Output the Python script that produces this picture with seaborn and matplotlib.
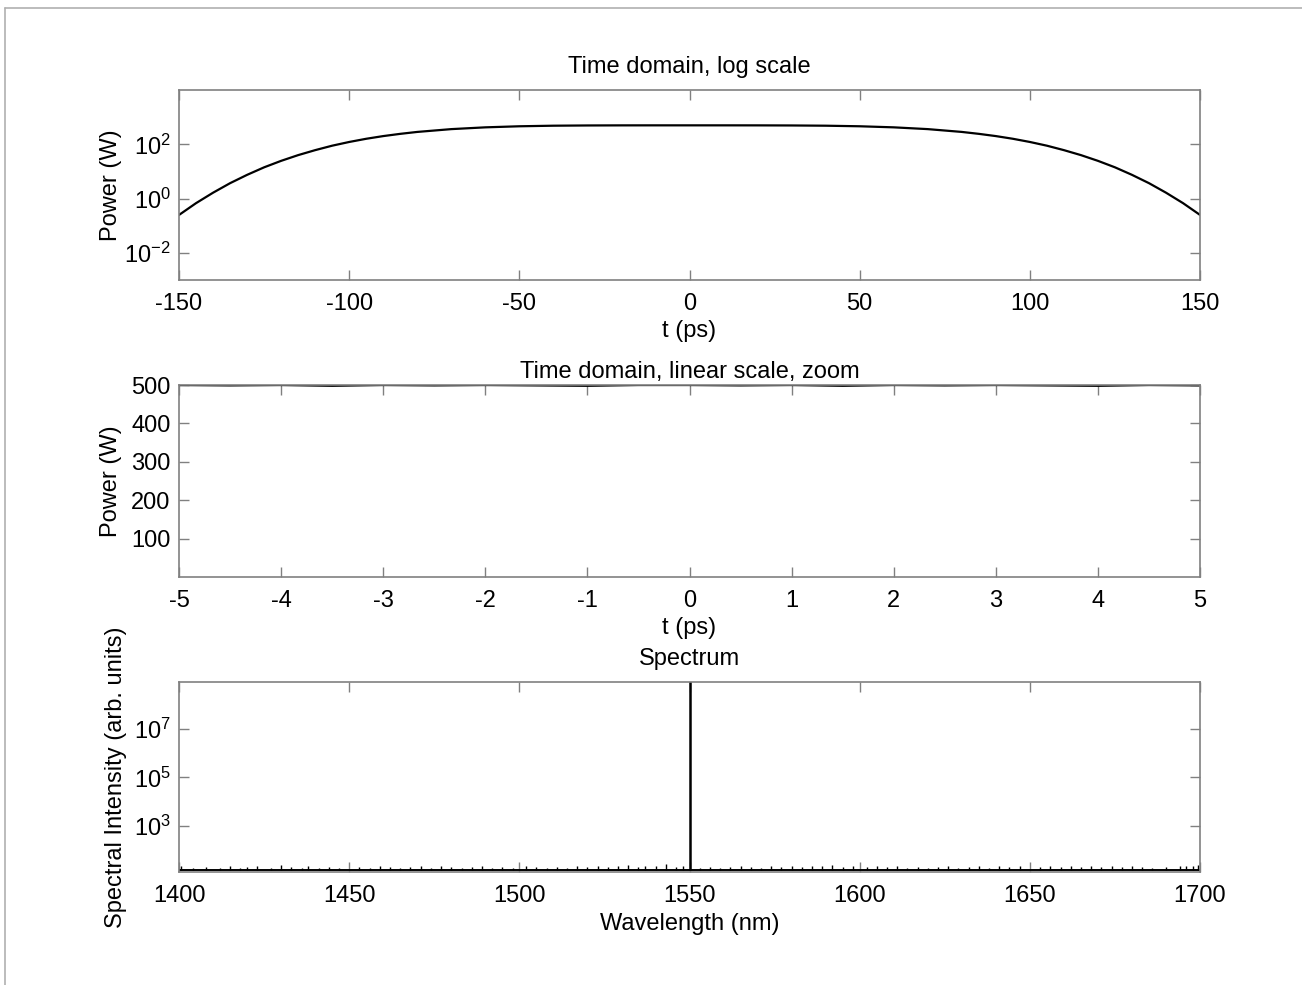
import matplotlib
matplotlib.use("Agg")
import pandas as pd
import seaborn as sns
import matplotlib.pyplot as plt
from matplotlib.lines import Line2D
from matplotlib.ticker import NullLocator

# ---- data ----
# time domain, log scale (ps, W)
t_log = [-150, -145, -140, -135, -130, -125, -120, -115, -110, -105, -100, -95,
         -90, -85, -80, -70, -60, -50, -40, -30, -20, -10, 0,
         10, 20, 30, 40, 50, 60, 70, 80, 85, 90, 95, 100, 105, 110, 115,
         120, 125, 130, 135, 140, 145, 150]
p_log = [0.25, 0.68, 1.65, 3.7, 7.5, 14.2, 24.6, 40, 61, 89, 122, 160,
         201, 243, 286, 363, 422, 462, 485, 495, 499, 500, 500,
         500, 499, 495, 485, 462, 422, 363, 286, 243, 201, 160, 122, 89, 61, 40,
         24.6, 14.2, 7.5, 3.7, 1.65, 0.68, 0.25]

# time domain, linear zoom (ps, W)
t_zoom = [-5, -4.5, -4, -3.5, -3, -2.5, -2, -1.5, -1, -0.5, 0,
          0.5, 1, 1.5, 2, 2.5, 3, 3.5, 4, 4.5, 5]
p_zoom = [500, 499, 500, 498, 500, 499, 500, 499, 498, 500, 500,
          499, 500, 498, 500, 499, 500, 499, 498, 500, 499]

# spectrum (nm, arb. units)
peak_wl = 1550
peak_val = 1e10
base_val = 14
noise_wl = [1400.5, 1404, 1408, 1412, 1415, 1418, 1420, 1423, 1427, 1430,
            1433, 1436, 1438, 1441, 1444, 1447, 1453, 1456, 1459, 1462,
            1465, 1468, 1471, 1474, 1477, 1480, 1483, 1486, 1489, 1492,
            1495, 1498, 1502, 1505, 1508, 1511, 1514, 1517, 1520, 1523,
            1526, 1529, 1532, 1535, 1537, 1540, 1543, 1546, 1548, 1553,
            1556, 1559, 1562, 1565, 1568, 1571, 1574, 1577, 1580, 1583,
            1586, 1589, 1592, 1595, 1598, 1602, 1605, 1608, 1611, 1614,
            1617, 1620, 1623, 1626, 1629, 1632, 1635, 1638, 1641, 1644,
            1647, 1653, 1656, 1659, 1662, 1665, 1668, 1671, 1674, 1677,
            1680, 1683, 1686, 1690, 1694, 1696, 1698, 1699.5]
noise_val = [21, 18, 19, 18, 21, 18, 19, 22, 18, 24, 19, 18, 21, 18, 19, 18,
             19, 18, 21, 19, 18, 19, 22, 18, 21, 19, 18, 19, 21, 18, 19, 18,
             21, 19, 18, 19, 18, 21, 19, 22, 19, 21, 24, 19, 22, 21, 25, 19,
             21, 18, 19, 18, 19, 21, 19, 18, 21, 19, 21, 19, 22, 21, 24, 19,
             21, 19, 22, 19, 21, 18, 19, 18, 19, 21, 18, 19, 21, 18, 21, 19,
             21, 19, 21, 19, 22, 19, 21, 19, 21, 19, 21, 19, 18, 19, 21, 22,
             21, 24]

df_log = pd.DataFrame({"t": t_log, "P": p_log})
df_zoom = pd.DataFrame({"t": t_zoom, "P": p_zoom})

# ---- style ----
sns.set_theme(style="ticks")
plt.rcParams["font.family"] = ["Liberation Sans", "DejaVu Sans"]
plt.rcParams["mathtext.fontset"] = "custom"
plt.rcParams["mathtext.rm"] = "Liberation Sans"
plt.rcParams["mathtext.it"] = "Liberation Sans"
plt.rcParams["axes.unicode_minus"] = False
plt.rcParams["text.color"] = "black"
plt.rcParams["axes.labelcolor"] = "black"
fs = 17
spine_col = "#808080"

fig = plt.figure(figsize=(13.02, 9.85), dpi=100)
fig.patch.set_facecolor("white")
fig.add_artist(Line2D([0.004, 1], [0.992, 0.992], color="#b0b0b0", lw=1.2, transform=fig.transFigure))
fig.add_artist(Line2D([0.004, 0.004], [0, 0.992], color="#b0b0b0", lw=1.2, transform=fig.transFigure))

ax1 = fig.add_axes([0.1375, 0.7157, 0.7842, 0.1929])
ax2 = fig.add_axes([0.1375, 0.4142, 0.7842, 0.1949])
ax3 = fig.add_axes([0.1375, 0.1147, 0.7842, 0.1929])


def matlab_look(ax):
    for s in ax.spines.values():
        s.set_visible(True)
        s.set_color(spine_col)
        s.set_linewidth(1.2)
    ax.tick_params(direction="in", top=True, right=True, length=7, width=1,
                   color=spine_col, labelsize=fs, labelcolor="black", pad=6)
    ax.tick_params(axis="x", pad=9)
    ax.tick_params(which="minor", length=0)
    ax.set_facecolor("white")


# panel 1
sns.lineplot(data=df_log, x="t", y="P", ax=ax1, color="black", lw=1.6)
ax1.set_yscale("log")
ax1.set_xlim(-150, 150)
ax1.set_ylim(1e-3, 1e4)
ax1.set_xticks([-150, -100, -50, 0, 50, 100, 150])
ax1.set_yticks([1e-2, 1e0, 1e2])
ax1.yaxis.set_minor_locator(NullLocator())
ax1.set_xlabel("t (ps)", fontsize=fs, labelpad=4)
ax1.set_ylabel("Power (W)", fontsize=fs)
ax1.set_title("Time domain, log scale", fontsize=fs, pad=12)
matlab_look(ax1)
ax1.yaxis.set_label_coords(-0.056, 0.5)

# panel 2
sns.lineplot(data=df_zoom, x="t", y="P", ax=ax2, color="black", lw=1.6)
ax2.set_xlim(-5, 5)
ax2.set_ylim(0, 500)
ax2.set_xticks(range(-5, 6))
ax2.set_yticks([100, 200, 300, 400, 500])
ax2.set_xlabel("t (ps)", fontsize=fs, labelpad=4)
ax2.set_ylabel("Power (W)", fontsize=fs)
ax2.set_title("Time domain, linear scale, zoom", fontsize=fs, pad=5)
matlab_look(ax2)
ax2.yaxis.set_label_coords(-0.056, 0.5)

# panel 3
ax3.set_yscale("log")
ax3.axhline(base_val, color="black", lw=1.4)
ax3.vlines(noise_wl, base_val, noise_val, color="black", lw=1)
ax3.vlines([peak_wl], base_val, [peak_val], color="black", lw=1.8)
ax3.set_xlim(1400, 1700)
ax3.set_ylim(12, 9e8)
ax3.set_xticks([1400, 1450, 1500, 1550, 1600, 1650, 1700])
ax3.set_yticks([1e3, 1e5, 1e7])
ax3.yaxis.set_minor_locator(NullLocator())
ax3.set_xlabel("Wavelength (nm)", fontsize=fs, labelpad=5)
ax3.set_ylabel("Spectral Intensity (arb. units)", fontsize=fs)
ax3.set_title("Spectrum", fontsize=fs, pad=12)
matlab_look(ax3)
ax3.yaxis.set_label_coords(-0.051, 0.5)

fig.savefig("out.png", dpi=100, facecolor="white")
